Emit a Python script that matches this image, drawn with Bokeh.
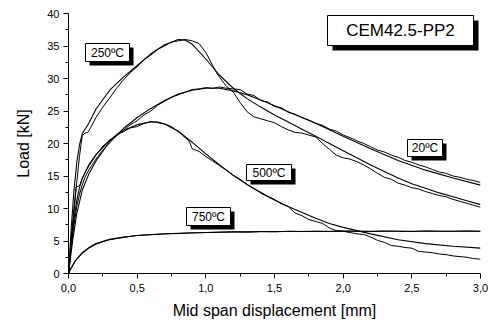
from bokeh.plotting import figure
from bokeh.models import Range1d, FixedTicker, CustomJSTickFormatter
from bokeh.core.properties import value
from bokeh.embed import file_html
from bokeh.resources import INLINE

# ---------------- data ----------------
# 20 ºC fit
f20_d = [0, 0.03, 0.06, 0.1, 0.15, 0.2, 0.3, 0.4, 0.5, 0.6, 0.7, 0.8, 0.9, 1.0, 1.1, 1.2, 1.3, 1.4,
         1.5, 1.6, 1.7, 1.8, 1.9, 2.0, 2.2, 2.4, 2.6, 2.8, 3.0]
f20_L = [0, 5.0, 9.2, 12.8, 15.4, 17.3, 20.3, 22.3, 24.0, 25.4, 26.6, 27.6, 28.2, 28.5, 28.5, 28.1, 27.5, 26.7,
         25.8, 24.9, 24.0, 23.1, 22.1, 21.1, 19.2, 17.4, 15.9, 14.7, 13.6]
# 20 ºC test
e20_d = [0, 0.02, 0.04, 0.06, 0.08, 0.10, 0.12, 0.15, 0.2, 0.25, 0.3, 0.35, 0.4, 0.45, 0.5, 0.55, 0.6, 0.65,
         0.7, 0.75, 0.8, 0.85, 0.9, 0.95, 1.0, 1.05, 1.1, 1.15, 1.2, 1.25, 1.3, 1.35, 1.4, 1.45, 1.5, 1.55,
         1.6, 1.65, 1.7, 1.75, 1.8, 1.85, 1.9, 1.95, 2.0, 2.05, 2.1, 2.15, 2.2, 2.25, 2.3, 2.35, 2.4, 2.45,
         2.5, 2.55, 2.6, 2.65, 2.7, 2.75, 2.8, 2.85, 2.9, 2.95, 3.0]
e20_L = [0, 4.0, 7.5, 10.3, 12.2, 13.6, 14.8, 16.0, 17.6, 19.0, 20.1, 21.2, 22.0, 22.9, 23.5, 24.4, 25.0, 25.9,
         26.5, 27.1, 27.5, 27.9, 28.3, 28.4, 28.6, 28.5, 28.7, 28.5, 28.4, 28.3, 27.6, 27.4, 26.6, 26.4, 25.7, 25.5,
         24.8, 24.5, 24.0, 23.6, 23.1, 22.8, 22.2, 21.9, 21.3, 20.9, 20.4, 20.0, 19.5, 19.0, 18.7, 18.2, 17.9, 17.4,
         17.1, 16.7, 16.4, 16.0, 15.6, 15.4, 15.0, 14.8, 14.5, 14.3, 14.0]

# 250 ºC fit
f250_d = [0, 0.02, 0.04, 0.06, 0.08, 0.1, 0.15, 0.2, 0.3, 0.4, 0.5, 0.6, 0.7, 0.8, 0.85, 0.9, 1.0, 1.1, 1.2,
          1.3, 1.4, 1.5, 1.6, 1.7, 1.8, 1.9, 2.0, 2.1, 2.2, 2.3, 2.4, 2.5, 2.6, 2.7, 2.8, 2.9, 3.0]
f250_L = [0, 7.0, 12.8, 17.0, 19.8, 21.5, 23.2, 25.3, 28.2, 30.2, 32.0, 33.8, 35.2, 36.0, 35.9, 35.3, 33.0, 30.5,
          28.5, 26.9, 25.6, 24.4, 23.3, 22.2, 21.1, 20.0, 18.9, 17.8, 16.7, 15.7, 14.7, 13.8, 13.1, 12.4, 11.8,
          11.2, 10.6]
# 250 ºC test
e250_d = [0, 0.02, 0.04, 0.06, 0.08, 0.10, 0.12, 0.14, 0.16, 0.2, 0.25, 0.3, 0.35, 0.4, 0.45, 0.5, 0.55, 0.6,
          0.65, 0.7, 0.75, 0.8, 0.85, 0.9, 0.95, 1.0, 1.05, 1.08, 1.1, 1.15, 1.2, 1.25, 1.3, 1.35, 1.4, 1.45,
          1.5, 1.55, 1.6, 1.65, 1.7, 1.75, 1.8, 1.85, 1.9, 1.95, 2.0, 2.05, 2.1, 2.15, 2.2, 2.25, 2.3, 2.35,
          2.4, 2.45, 2.5, 2.55, 2.6, 2.65, 2.7, 2.75, 2.8, 2.85, 2.9, 2.95, 3.0]
e250_L = [0, 4.5, 9.5, 14.0, 18.0, 21.2, 21.6, 21.7, 22.4, 24.0, 25.6, 27.0, 28.5, 29.8, 30.9, 31.8, 32.9, 33.6,
          34.5, 35.0, 35.6, 35.8, 36.0, 35.8, 35.4, 34.0, 32.0, 30.8, 30.2, 28.8, 27.9, 26.3, 24.9, 24.1, 23.8,
          23.5, 23.2, 22.6, 22.1, 21.7, 21.6, 21.3, 21.0, 20.0, 19.1, 18.2, 17.8, 17.6, 17.2, 16.7, 16.1, 15.4,
          14.8, 14.5, 13.9, 13.6, 13.2, 13.0, 12.6, 12.3, 12.0, 11.8, 11.4, 11.1, 10.8, 10.5, 10.2]

# 500 ºC fit
f500_d = [0, 0.02, 0.04, 0.06, 0.08, 0.1, 0.15, 0.2, 0.3, 0.4, 0.5, 0.6, 0.65, 0.7, 0.8, 0.9, 1.0, 1.1, 1.2,
          1.3, 1.4, 1.5, 1.6, 1.7, 1.8, 1.9, 2.0, 2.2, 2.4, 2.6, 2.8, 3.0]
f500_L = [0, 4.5, 8.4, 11.2, 13.2, 14.6, 16.8, 18.3, 20.5, 22.0, 22.9, 23.3, 23.3, 23.0, 21.9, 20.2, 18.4, 16.7,
          15.1, 13.7, 12.4, 11.3, 10.3, 9.4, 8.5, 7.7, 7.1, 6.1, 5.2, 4.6, 4.2, 3.9]
# 500 ºC test
e500_d = [0, 0.02, 0.04, 0.055, 0.07, 0.08, 0.1, 0.12, 0.15, 0.2, 0.25, 0.3, 0.35, 0.4, 0.45, 0.5, 0.55, 0.6,
          0.65, 0.7, 0.75, 0.8, 0.85, 0.88, 0.9, 0.95, 1.0, 1.05, 1.1, 1.15, 1.2, 1.25, 1.3, 1.35, 1.4, 1.45,
          1.5, 1.55, 1.6, 1.65, 1.7, 1.75, 1.8, 1.85, 1.9, 1.95, 2.0, 2.05, 2.1, 2.15, 2.2, 2.25, 2.3, 2.35,
          2.4, 2.45, 2.5, 2.55, 2.6, 2.65, 2.7, 2.75, 2.8, 2.85, 2.9, 2.95, 3.0]
e500_L = [0, 5.5, 10.0, 13.3, 13.4, 13.5, 14.6, 15.5, 16.6, 18.2, 19.6, 20.4, 21.4, 21.8, 22.4, 22.6, 23.1, 23.4,
          23.2, 23.0, 22.6, 21.8, 20.9, 20.3, 19.2, 18.8, 18.0, 17.3, 16.6, 15.9, 15.1, 14.5, 13.7, 13.1, 12.5,
          11.9, 11.4, 10.7, 10.3, 9.3, 8.9, 8.3, 8.0, 7.7, 7.0, 6.6, 6.5, 6.3, 6.1, 6.0, 5.6, 5.1, 4.8, 4.3,
          4.2, 4.0, 3.9, 3.4, 3.3, 3.2, 3.0, 2.9, 2.7, 2.6, 2.5, 2.3, 2.2]

# 750 ºC fit
f750_d = [0, 0.02, 0.05, 0.1, 0.15, 0.2, 0.3, 0.4, 0.5, 0.6, 0.8, 1.0, 1.2, 1.5, 2.0, 2.5, 3.0]
f750_L = [0, 0.9, 2.0, 3.2, 4.0, 4.6, 5.25, 5.6, 5.85, 6.0, 6.2, 6.3, 6.4, 6.45, 6.5, 6.5, 6.5]
# 750 ºC test
e750_d = [0, 0.02, 0.05, 0.1, 0.15, 0.2, 0.25, 0.3, 0.4, 0.5, 0.6, 0.7, 0.8, 0.9, 1.0, 1.1, 1.2, 1.3, 1.4,
          1.5, 1.6, 1.7, 1.8, 1.9, 2.0, 2.1, 2.2, 2.3, 2.4, 2.5, 2.6, 2.7, 2.8, 2.9, 3.0]
e750_L = [0, 0.8, 1.9, 3.1, 3.9, 4.5, 4.9, 5.2, 5.55, 5.85, 5.95, 6.1, 6.15, 6.25, 6.3, 6.35, 6.4, 6.35, 6.45,
          6.4, 6.5, 6.45, 6.5, 6.45, 6.55, 6.5, 6.45, 6.55, 6.5, 6.45, 6.55, 6.5, 6.5, 6.55, 6.5]

x_ticks = [0, 0.5, 1.0, 1.5, 2.0, 2.5, 3.0]
y_ticks = [0, 5, 10, 15, 20, 25, 30, 35, 40]
labels = ["CEM42.5-PP2", "250ºC", "20ºC", "500ºC", "750ºC"]

# ---------------- figure ----------------
W, H = 491, 323
L_B, R_B, T_B, B_B = 68, 11, 13, 50
FONT = "Liberation Sans"

p = figure(width=W, height=H, output_backend="svg", toolbar_location=None,
           x_range=Range1d(0, 3.0), y_range=Range1d(0, 40),
           min_border_left=L_B, min_border_right=R_B, min_border_top=T_B, min_border_bottom=B_B)
p.outline_line_color = None
p.grid.visible = False
p.background_fill_color = "white"
p.border_fill_color = "white"

fw = W - L_B - R_B
fh = H - T_B - B_B


def px_x(px):
    return (px - L_B) / fw * 3.0


def px_y(py):
    return (H - B_B - py) / fh * 40.0


for d, L in [(e20_d, e20_L), (e250_d, e250_L), (e500_d, e500_L), (e750_d, e750_L)]:
    p.line(d, L, line_color="black", line_width=1.0)
for d, L in [(f20_d, f20_L), (f250_d, f250_L), (f500_d, f500_L), (f750_d, f750_L)]:
    p.line(d, L, line_color="black", line_width=1.1)

# axes
p.xaxis.ticker = FixedTicker(ticks=x_ticks, minor_ticks=[0.25, 0.75, 1.25, 1.75, 2.25, 2.75])
p.yaxis.ticker = FixedTicker(ticks=y_ticks, minor_ticks=[2.5, 7.5, 12.5, 17.5, 22.5, 27.5, 32.5, 37.5])
p.xaxis.formatter = CustomJSTickFormatter(code="return tick.toFixed(1).replace('.', ',');")
for ax in (p.xaxis[0], p.yaxis[0]):
    ax.major_tick_in = 0
    ax.major_tick_out = 5
    ax.minor_tick_in = 0
    ax.minor_tick_out = 3
    ax.axis_line_color = "black"
    ax.major_tick_line_color = "black"
    ax.minor_tick_line_color = "black"
    ax.major_label_text_font = FONT
    ax.major_label_text_font_size = "11px"
    ax.major_label_text_color = "black"
    ax.axis_label_text_font = FONT
    ax.axis_label_text_font_style = "normal"
    ax.axis_label_text_font_size = "16px"
    ax.axis_label_text_color = "black"
p.xaxis.axis_label = "Mid span displacement [mm]"
p.yaxis.axis_label = "Load [kN]"
p.xaxis.major_label_standoff = 5
p.yaxis.major_label_standoff = 4
p.xaxis.axis_label_standoff = 7
p.yaxis.axis_label_standoff = 12

# label boxes (pixel boxes: left, right, top, bottom, font size, shadow offset)
boxes = [
    (327, 473, 15, 45, "17px", 5),
    (85, 129, 43, 61, "12px", 4),
    (407, 442, 139, 156, "12px", 4),
    (246, 291, 164, 180, "12px", 4),
    (186, 230, 207, 225, "12px", 4),
]
for (l, r, t, b, fs, off), txt in zip(boxes, labels):
    p.quad(left=[px_x(l + off)], right=[px_x(r + off)], top=[px_y(t + off)], bottom=[px_y(b + off)],
           fill_color="black", line_color=None)
    p.quad(left=[px_x(l)], right=[px_x(r)], top=[px_y(t)], bottom=[px_y(b)],
           fill_color="white", line_color="black", line_width=1)
    p.text(x=[px_x((l + r) / 2)], y=[px_y((t + b) / 2)], text=[txt], text_align="center",
           text_baseline="middle", text_font=value(FONT), text_font_size=fs, text_color="black")

open("out.html", "w").write(file_html(p, INLINE))
